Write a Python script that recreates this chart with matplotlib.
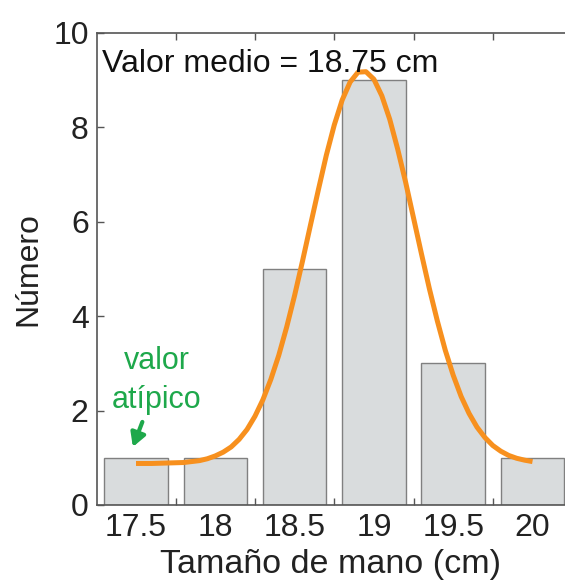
import matplotlib.pyplot as plt

plt.rcParams['font.family'] = ['Liberation Sans', 'DejaVu Sans']

# histogram data
sizes = [17.5, 18.0, 18.5, 19.0, 19.5, 20.0]
counts = [1, 1, 5, 9, 3, 1]
size_labels = ['17.5', '18', '18.5', '19', '19.5', '20']

# fitted curve
curve_x = [17.5, 17.6, 17.7, 17.8, 17.9, 17.95, 18.0, 18.05, 18.1, 18.15, 18.2, 18.25,
           18.3, 18.35, 18.4, 18.45, 18.5, 18.55, 18.6, 18.65, 18.7, 18.75, 18.8, 18.85,
           18.9, 18.95, 19.0, 19.05, 19.1, 19.15, 19.2, 19.25, 19.3, 19.35, 19.4, 19.45,
           19.5, 19.55, 19.6, 19.65, 19.7, 19.75, 19.8, 19.85, 19.9, 19.95, 20.0]
curve_y = [0.88, 0.88, 0.89, 0.90, 0.94, 0.98, 1.04, 1.12, 1.23, 1.39, 1.60, 1.88,
           2.23, 2.66, 3.17, 3.77, 4.44, 5.17, 5.93, 6.68, 7.41, 8.05, 8.58, 8.96,
           9.17, 9.18, 9.02, 8.67, 8.17, 7.54, 6.84, 6.08, 5.32, 4.58, 3.90, 3.28,
           2.75, 2.30, 1.94, 1.65, 1.43, 1.26, 1.14, 1.05, 0.99, 0.95, 0.92]

fig = plt.figure(figsize=(5.65, 5.81), dpi=100)
ax = fig.add_axes([97/565, 76/581, 468/565, 472/581])

ax.bar(sizes, counts, width=0.4, color='#d9dcdd', edgecolor='#808080', linewidth=1.0, zorder=2)
ax.plot(curve_x, curve_y, color='#f7901e', lw=3.6, solid_capstyle='butt', zorder=3)

ax.set_xlim(17.254, 20.205)
ax.set_ylim(0, 10)

ax.set_xticks([17.75, 18.25, 18.75, 19.25, 19.75])
ax.set_xticklabels([])
ax.set_xticks(sizes, minor=True)
ax.set_xticklabels(size_labels, minor=True)
ax.tick_params(axis='x', which='major', direction='in', length=5, width=1, color='#555555',
               top=True, bottom=True)
ax.tick_params(axis='x', which='minor', length=0, labelsize=23, pad=6, labelcolor='#222222')
ax.set_yticks([0, 2, 4, 6, 8, 10])
ax.tick_params(axis='y', direction='in', length=5, width=1, color='#555555',
               labelsize=23, labelcolor='#222222', pad=6)

for s in ['left', 'bottom', 'top']:
    ax.spines[s].set_color('#555555')
    ax.spines[s].set_linewidth(1.2)
ax.spines['right'].set_visible(False)

ax.set_xlabel('Tamaño de mano (cm)', fontsize=24.5, color='#222222', labelpad=4)
ax.set_ylabel('Número', fontsize=23, color='#222222', labelpad=7)

ax.text(17.285, 9.34, 'Valor medio = 18.75 cm', fontsize=23, color='#111111', va='center', ha='left', zorder=4)

green = '#1ea84b'
ax.text(17.63, 3.05, 'valor', fontsize=22, color=green, ha='center', va='center')
ax.text(17.63, 2.22, 'atípico', fontsize=22, color=green, ha='center', va='center')
ax.annotate('', xy=(17.48, 1.23), xytext=(17.54, 1.76),
            arrowprops=dict(arrowstyle='-|>,head_length=0.8,head_width=0.45', color=green, lw=3.0,
                            shrinkA=0, shrinkB=0))

fig.savefig('out.png', dpi=100)
